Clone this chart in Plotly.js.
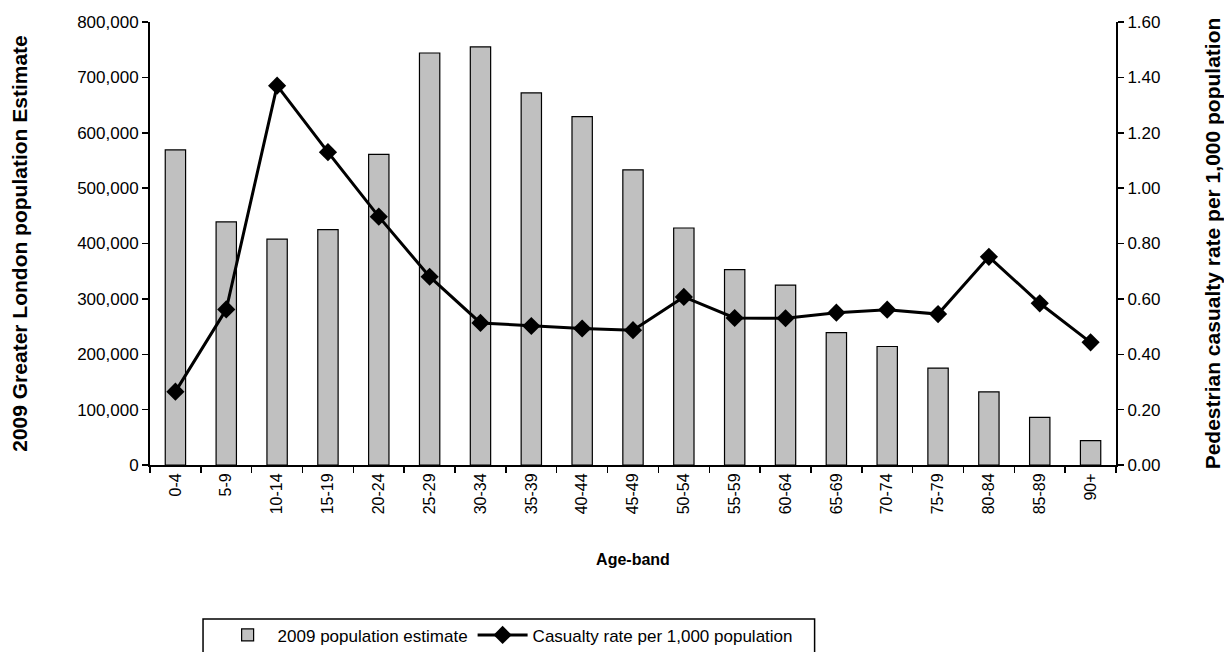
<!DOCTYPE html>
<html>
<head>
<meta charset="utf-8">
<script src="https://cdn.plot.ly/plotly-3.0.1.min.js"></script>
<style>html,body{margin:0;padding:0;background:#fff;}#chart{width:1224px;height:652px;}</style>
</head>
<body>
<div id="chart"></div>
<script>
const ageBands = ["0-4","5-9","10-14","15-19","20-24","25-29","30-34","35-39","40-44","45-49","50-54","55-59","60-64","65-69","70-74","75-79","80-84","85-89","90+"];
const population = [569000,439000,408000,425000,561000,744000,755000,672000,629000,533000,428000,353000,325000,239000,214000,175000,132000,86000,44000];
const casualtyRate = [0.265,0.562,1.37,1.13,0.897,0.68,0.513,0.502,0.493,0.487,0.607,0.531,0.530,0.550,0.561,0.545,0.752,0.584,0.443];
const leftTicks = [0,100000,200000,300000,400000,500000,600000,700000,800000];
const rightTicks = [0,0.2,0.4,0.6,0.8,1.0,1.2,1.4,1.6];

const font = "Liberation Sans, Arial, sans-serif";
const traces = [
  {type:"bar", name:"2009 population estimate", x:ageBands, y:population, width:0.4,
   marker:{color:"#c0c0c0", line:{color:"#000", width:1.2}}, yaxis:"y"},
  {type:"scatter", mode:"lines+markers", name:"Casualty rate per 1,000 population", x:ageBands, y:casualtyRate,
   line:{color:"#000", width:3}, marker:{symbol:"diamond", size:14, color:"#000"}, yaxis:"y2"}
];
const layout = {
  width:1224, height:652,
  margin:{l:150, r:108, t:22, b:187, autoexpand:false},
  paper_bgcolor:"#fff", plot_bgcolor:"#fff",
  font:{family:font, size:17, color:"#000"},
  showlegend:true,
  xaxis:{type:"category", range:[-0.5,18.5], tickangle:-90, ticks:"outside", tickson:"boundaries", ticklen:6, tickwidth:1.5, tickcolor:"#000",
    showline:true, linecolor:"#000", linewidth:2, showgrid:false, zeroline:false,
    tickfont:{family:font, size:16},
    title:{text:"Age-band", font:{family:font, size:16, weight:"bold"}, standoff:40}, automargin:false},
  yaxis:{range:[0,800000], tickvals:leftTicks, tickformat:",d", ticks:"outside", ticklen:6, tickwidth:1.5, tickcolor:"#000",
    showline:true, linecolor:"#000", linewidth:2, showgrid:false, zeroline:false,
    tickfont:{family:font, size:17},
    title:{text:"2009 Greater London population Estimate", font:{family:font, size:21, weight:"bold"}, standoff:44}, automargin:false},
  yaxis2:{range:[0,1.6], tickvals:rightTicks, tickformat:".2f", overlaying:"y", side:"right", ticks:"outside", ticklen:6, tickwidth:1.5, tickcolor:"#000",
    showline:true, linecolor:"#000", linewidth:2, showgrid:false, zeroline:false,
    tickfont:{family:font, size:17},
    title:{text:"Pedestrian casualty rate per 1,000 population", font:{family:font, size:21, weight:"bold"}, standoff:46}, automargin:false},
  legend:{orientation:"h", x:0.07, xanchor:"left", y:-0.344, yanchor:"top",
    borderwidth:0, bgcolor:"rgba(0,0,0,0)", font:{family:font, size:17}, itemwidth:50,
    traceorder:"normal"},
  shapes:[{type:"rect", xref:"paper", yref:"paper", x0:0.0549, x1:0.688, y0:-0.3476, y1:-0.5,
    line:{color:"#000", width:1.5}, fillcolor:"rgba(0,0,0,0)", layer:"above"}]
};
Plotly.newPlot("chart", traces, layout, {displayModeBar:false, staticPlot:true});
</script>
</body>
</html>
